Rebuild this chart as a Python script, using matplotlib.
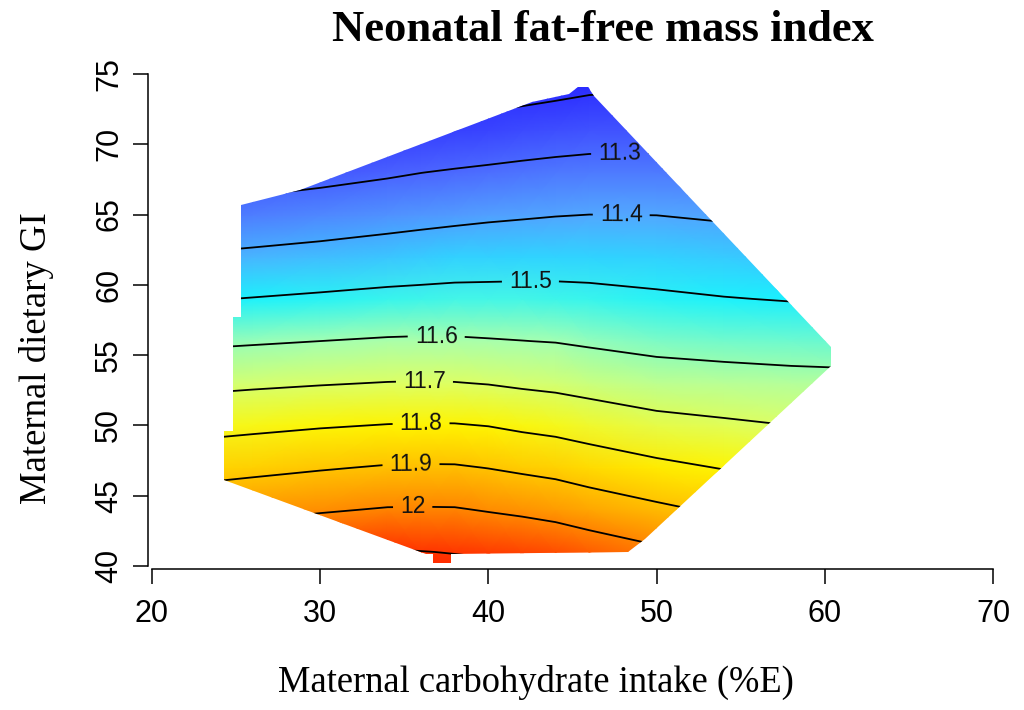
import numpy as np
import matplotlib
matplotlib.use("Agg")
import matplotlib.pyplot as plt
from matplotlib.colors import LinearSegmentedColormap, Normalize
from matplotlib.patches import Polygon

# surface values on a coarse grid
carb_grid = [22, 26, 30, 34, 36, 38, 40, 42, 44, 46, 50, 54, 58, 62]
gi_grid = [38, 41, 44, 47, 50, 53, 56, 59, 62, 65, 68, 71, 74, 77]
ffmi = [
    [12.150, 12.171, 12.180, 12.190, 12.180, 12.160, 12.160, 12.150, 12.150, 12.149, 12.115, 12.083, 12.047, 12.018],
    [12.056, 12.074, 12.093, 12.107, 12.102, 12.097, 12.091, 12.083, 12.070, 12.051, 12.016, 11.984, 11.953, 11.929],
    [11.960, 11.977, 11.992, 12.006, 12.007, 12.006, 11.995, 11.984, 11.971, 11.952, 11.918, 11.886, 11.862, 11.844],
    [11.861, 11.877, 11.893, 11.907, 11.909, 11.908, 11.898, 11.885, 11.873, 11.854, 11.821, 11.796, 11.777, 11.767],
    [11.767, 11.780, 11.793, 11.803, 11.806, 11.805, 11.798, 11.784, 11.773, 11.757, 11.729, 11.714, 11.700, 11.695],
    [11.676, 11.686, 11.695, 11.703, 11.705, 11.703, 11.697, 11.687, 11.679, 11.667, 11.645, 11.635, 11.628, 11.624],
    [11.582, 11.591, 11.600, 11.608, 11.610, 11.609, 11.605, 11.601, 11.597, 11.588, 11.573, 11.566, 11.560, 11.556],
    [11.493, 11.503, 11.513, 11.523, 11.526, 11.529, 11.529, 11.529, 11.528, 11.524, 11.513, 11.503, 11.496, 11.490],
    [11.407, 11.418, 11.429, 11.442, 11.448, 11.454, 11.457, 11.460, 11.461, 11.461, 11.456, 11.447, 11.438, 11.431],
    [11.319, 11.336, 11.350, 11.365, 11.373, 11.380, 11.387, 11.392, 11.397, 11.400, 11.399, 11.390, 11.380, 11.373],
    [11.240, 11.255, 11.271, 11.289, 11.299, 11.307, 11.314, 11.321, 11.327, 11.331, 11.331, 11.327, 11.320, 11.314],
    [11.165, 11.176, 11.189, 11.208, 11.218, 11.227, 11.236, 11.245, 11.253, 11.260, 11.264, 11.262, 11.256, 11.250],
    [11.089, 11.097, 11.107, 11.127, 11.136, 11.146, 11.156, 11.166, 11.177, 11.188, 11.195, 11.196, 11.190, 11.180],
    [11.013, 11.018, 11.025, 11.046, 11.055, 11.065, 11.076, 11.087, 11.100, 11.116, 11.127, 11.130, 11.120, 11.110],
]

# outline of the region covered by the data
hull_carb = [25.3, 25.3, 24.8, 24.8, 24.3, 24.3, 36.3, 36.7, 36.7, 37.8, 37.8, 48.3, 49.3,
             60.4, 60.4, 46.3, 45.9, 45.3, 44.8, 42.6, 28.8]
hull_gi = [65.7, 57.7, 57.7, 49.6, 49.6, 46.1, 40.85, 40.85, 40.2, 40.2, 40.85, 41.0, 41.9,
           54.2, 55.6, 73.4, 74.1, 74.1, 73.6, 73.0, 66.75]

contour_levels = [11.2, 11.3, 11.4, 11.5, 11.6, 11.7, 11.8, 11.9, 12.0, 12.1]
# where the labels 11.3 ... 12 sit
label_spots = [(47.8, 69.4), (47.9, 65.0), (42.5, 60.15), (36.9, 56.3),
               (36.2, 53.1), (36.0, 50.15), (35.4, 47.25), (35.5, 44.25)]

x_ticks = [20, 30, 40, 50, 60, 70]
y_ticks = [40, 45, 50, 55, 60, 65, 70, 75]

# colour ramp, blue (low) -> cyan -> yellow -> red (high)
ramp_values = [11.18, 11.30, 11.40, 11.50, 11.60, 11.70, 11.80, 11.90, 12.00, 12.14]
ramp_colors = ["#2a2aff", "#4c66ff", "#52a8ff", "#18f2ff", "#a6ffb0",
               "#dcff66", "#fff500", "#ffc400", "#ff8a00", "#ff1400"]

vmin, vmax = ramp_values[0], ramp_values[-1]
cmap = LinearSegmentedColormap.from_list(
    "ffmi", [((v - vmin) / (vmax - vmin), c) for v, c in zip(ramp_values, ramp_colors)])

fig = plt.figure(figsize=(10.24, 7.10), dpi=100)
ax = fig.add_axes([0.1484, 0.2028, 0.8213, 0.693])

X, Y = np.meshgrid(carb_grid, gi_grid)
Z = np.array(ffmi)

hull = Polygon(np.column_stack([hull_carb, hull_gi]), closed=True,
               facecolor="none", edgecolor="none", transform=ax.transData)
ax.add_patch(hull)

mesh = ax.pcolormesh(X, Y, Z, shading="gouraud", cmap=cmap,
                     norm=Normalize(vmin, vmax), rasterized=True)
mesh.set_clip_path(hull)

cs = ax.contour(X, Y, Z, levels=contour_levels, colors="black", linewidths=1.3)
cs.set_clip_path(hull)
labels = ax.clabel(cs, manual=label_spots, inline=True, inline_spacing=10,
                   fontsize=16.5, fmt=lambda v: f"{round(v, 1):g}")
for t in labels:
    t.set_fontfamily("Liberation Sans")
    t.set_color("#111111")

ax.set_xlim(20, 70)
ax.set_ylim(40, 75)

# R style axes
for side in ("top", "right"):
    ax.spines[side].set_visible(False)
ax.spines["left"].set_position(("outward", 2.5))
ax.spines["bottom"].set_position(("outward", 2.5))
ax.spines["left"].set_bounds(40, 75)
ax.spines["bottom"].set_bounds(20, 70)
for side in ("left", "bottom"):
    ax.spines[side].set_linewidth(1.1)

ax.set_xticks(x_ticks)
ax.set_yticks(y_ticks)
ax.tick_params(length=11, width=1.1, labelsize=22)
ax.tick_params(axis="x", pad=10)
ax.tick_params(axis="y", labelrotation=90, pad=6.5)
for lab in ax.get_xticklabels() + ax.get_yticklabels():
    lab.set_fontfamily("Liberation Sans")
for lab in ax.get_yticklabels():
    lab.set_va("center")

ax.set_title("Neonatal fat-free mass index", fontfamily="Liberation Serif",
             fontweight="bold", fontsize=32, x=0.536, y=1.067, pad=0)
ax.set_xlabel("Maternal carbohydrate intake (%E)", fontfamily="Liberation Serif",
              fontsize=26.3)
ax.xaxis.label.set_va("baseline")
ax.xaxis.set_label_coords(0.457, -0.256)
ax.set_ylabel("Maternal dietary GI", fontfamily="Liberation Serif", fontsize=26.5)
ax.yaxis.set_label_coords(-0.116, 0.423)

fig.savefig("out.png", dpi=100)
